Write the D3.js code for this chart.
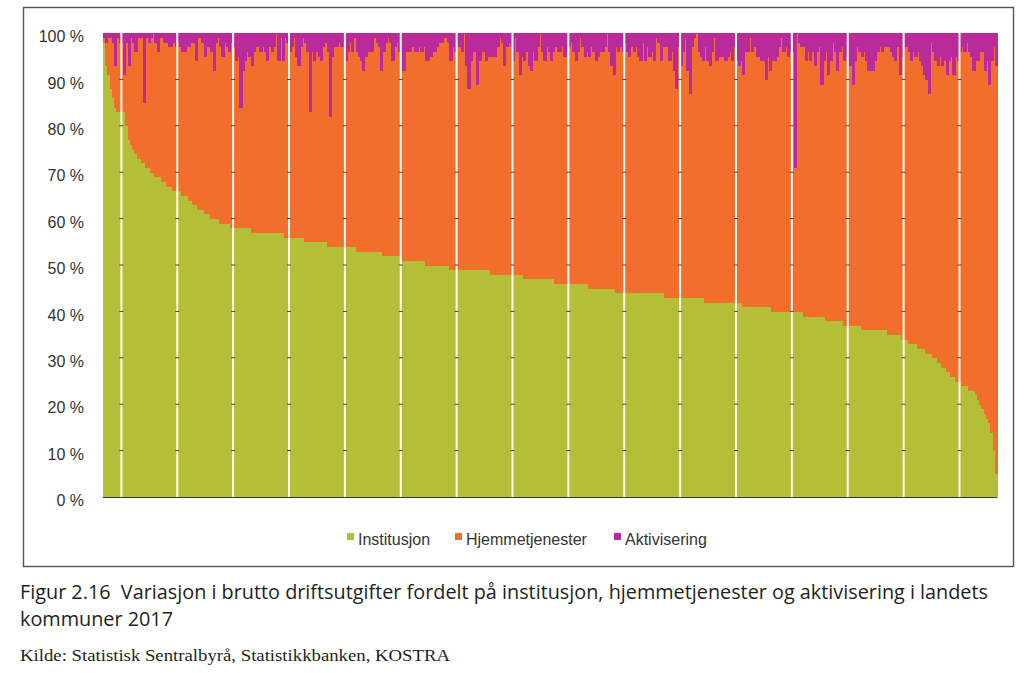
<!DOCTYPE html>
<html><head><meta charset="utf-8">
<script src="https://cdn.jsdelivr.net/npm/d3@7"></script>
<style>body{margin:0;background:#fff;} svg{display:block;}</style>
</head><body>
<svg id="c" width="1024" height="673"></svg>
<script>
// ---- data (share of gross operating expenditure, %, municipalities ranked by Institusjon share) ----
const kommuneRang = d3.range(1, 401);
const institusjon = [
98,93,91,88,86,84,83,83,
83,83,80,77,76,75,74,73,73,72,72,71,71,70,70,69,69,69,68,68,67,67,67,66,66,
66,66,65,65,65,64,64,63,63,62,62,62,61,61,61,60,60,60,60,59,59,59,59,59,58,
58,58,58,58,58,58,58,58,57,57,57,57,57,57,57,57,57,57,57,57,57,57,57,56,56,
56,56,56,56,56,56,56,55,55,55,55,55,55,55,55,55,55,54,54,54,54,54,54,54,54,
54,54,54,54,54,53,53,53,53,53,53,53,53,53,53,53,53,52,52,52,52,52,52,52,52,
52,51,51,51,51,51,51,51,51,51,51,50,50,50,50,50,50,50,50,50,50,50,49,49,49,
49,49,49,49,49,49,49,49,49,49,49,49,49,49,49,48,48,48,48,48,48,48,48,48,48,
48,48,48,48,48,47,47,47,47,47,47,47,47,47,47,47,47,47,47,46,46,46,46,46,46,
46,46,46,46,46,46,46,46,46,45,45,45,45,45,45,45,45,45,45,45,45,44,44,44,44,
44,44,44,44,44,44,44,44,44,44,44,44,44,44,44,44,44,44,43,43,43,43,43,43,43,
43,43,43,43,43,43,43,43,43,43,43,42,42,42,42,42,42,42,42,42,42,42,42,42,42,
42,42,42,41,41,41,41,41,41,41,41,41,41,41,41,41,40,40,40,40,40,40,40,40,40,
40,40,40,40,40,39,39,39,39,39,39,39,39,39,39,38,38,38,38,38,38,38,38,37,37,
37,37,37,37,37,37,36,36,36,36,36,36,36,36,36,36,36,36,35,35,35,35,35,35,34,
34,34,33,33,33,33,32,32,32,32,31,31,31,30,30,29,29,28,28,27,27,26,26,25,25,
25,24,24,24,23,23,23,22,21,20,19,18,17,16,14,10,5];
const hjemmetjenester = [
1,5,8,11,12,9,16,15,
15,8,18,16,23,23,22,26,26,27,13,28,27,29,30,29,27,30,31,30,31,30,30,32,31,
32,31,31,31,32,33,34,35,31,37,37,36,34,36,36,36,32,38,39,38,36,39,38,37,40,
39,36,37,26,34,36,38,37,36,39,40,40,39,40,39,37,40,39,40,43,37,42,37,43,42,
40,41,43,39,37,41,43,43,41,28,41,39,41,40,39,42,43,42,28,41,43,43,44,43,43,
40,42,44,42,45,43,42,41,39,42,43,43,43,46,45,44,39,44,46,47,46,42,45,46,44,
44,41,45,45,45,46,45,45,46,45,46,44,44,45,46,46,47,48,48,49,49,48,45,48,47,
49,48,47,51,44,39,45,47,47,40,45,47,47,45,46,47,47,47,49,51,50,45,49,50,49,
46,51,48,43,47,47,49,46,45,49,47,50,53,49,47,50,49,47,49,51,50,50,51,49,50,
51,52,50,48,50,53,51,49,50,50,52,51,49,50,51,51,52,55,51,48,46,53,52,53,52,
54,52,51,53,52,53,51,50,54,50,53,51,52,50,55,54,50,53,54,54,51,53,49,45,54,
50,53,56,49,44,54,56,57,53,52,51,55,52,51,54,57,52,53,53,53,52,53,54,52,55,
52,51,52,50,55,55,58,55,56,54,54,53,53,49,54,51,54,54,55,57,59,56,57,55,56,
56,31,60,58,57,58,55,57,55,57,54,57,58,50,55,58,53,56,60,58,54,58,59,57,58,
57,56,52,57,60,59,59,60,58,56,56,56,58,60,61,60,61,61,62,61,60,59,62,56,61,
63,63,63,61,63,62,64,62,61,59,59,56,67,66,64,64,66,65,66,64,67,69,65,70,69,
71,73,72,74,73,72,69,72,73,76,77,74,77,73,80,87,88];
const aktivisering = [
1,2,1,1,2,7,1,2,
2,9,2,7,1,2,4,1,1,1,15,1,2,1,0,2,4,1,1,2,2,3,3,2,3,
2,3,4,4,3,3,2,2,6,1,1,2,5,3,3,4,8,2,1,3,5,2,3,4,2,
3,6,5,16,8,6,4,5,7,4,3,3,4,3,4,6,3,4,3,0,6,1,6,1,2,
4,3,1,5,7,3,1,2,4,17,4,6,4,5,6,3,2,4,18,5,3,3,2,3,3,
6,4,2,4,1,4,5,6,8,5,4,4,4,1,2,3,8,4,2,1,2,6,3,2,4,
4,8,4,4,4,3,4,4,3,4,3,6,6,5,4,4,3,2,2,1,1,2,6,3,4,
2,3,4,0,7,12,6,4,4,11,6,4,4,6,5,5,5,5,3,1,2,7,3,2,3,
6,1,4,9,5,6,4,7,8,4,6,3,0,4,6,3,4,6,4,3,4,4,3,5,4,
3,2,4,6,4,1,3,5,4,5,3,4,6,5,4,4,3,0,4,7,9,3,4,3,4,
2,4,5,3,4,3,5,6,2,6,3,5,4,6,1,2,6,3,3,3,6,4,8,12,3,
7,4,1,8,13,3,1,0,4,5,6,3,6,7,4,1,6,5,5,5,6,5,4,6,3,
6,7,6,9,4,4,1,4,3,5,5,6,6,10,5,8,6,6,5,3,1,4,3,5,4,
4,29,0,2,3,3,6,4,6,4,7,4,3,11,6,4,9,6,2,4,8,4,3,6,5,
6,7,11,6,3,4,5,4,6,8,8,8,6,4,3,4,3,3,3,4,5,6,3,9,5,
3,3,4,6,4,5,4,6,7,9,10,13,2,4,6,7,5,7,6,9,6,5,9,5,6,
4,3,4,2,4,5,8,6,6,4,4,8,6,11,6,3,7];
const serier = ["Institusjon", "Hjemmetjenester", "Aktivisering"];
const yTicks = [0, 10, 20, 30, 40, 50, 60, 70, 80, 90, 100];
const tittelLinjer = ["Figur 2.16\u00A0 Variasjon i brutto driftsutgifter fordelt på institusjon, hjemmetjenester og aktivisering i landets", "kommuner 2017"];
const kilde = "Kilde: Statistisk Sentralbyrå, Statistikkbanken, KOSTRA";

// ---- drawing ----
const farger = {Institusjon: "#b4be36", Hjemmetjenester: "#f26e2c", Aktivisering: "#bb2a9b"};
const svg = d3.select("#c");
const L = 103, R = 997, T = 33, B = 497;

svg.append("rect").attr("x", 23.5).attr("y", 7.5).attr("width", 990).attr("height", 559)
  .attr("fill", "none").attr("stroke", "#555").attr("stroke-width", 1.4);

const rows = kommuneRang.map((k, i) => ({k, Institusjon: institusjon[i], Hjemmetjenester: hjemmetjenester[i], Aktivisering: aktivisering[i]}));
const stacked = d3.stack().keys(serier).offset(d3.stackOffsetExpand)(rows);

const x = d3.scaleBand().domain(kommuneRang).range([L, R]).padding(0);
const y = d3.scaleLinear().domain([0, 1]).range([B, T]);

svg.append("g").attr("shape-rendering", "crispEdges").selectAll("g").data(stacked).join("g")
  .attr("fill", s => farger[s.key])
  .selectAll("rect").data(s => s).join("rect")
  .attr("x", d => x(d.data.k))
  .attr("width", x.bandwidth() + 1)
  .attr("y", d => y(d[1]))
  .attr("height", d => y(d[0]) - y(d[1]) + 0.5);

// white category gridlines every 25 municipalities
const gridIdx = d3.range(8, 400, 25);
const gl = svg.append("g");
gl.selectAll("line").data(gridIdx).join("line")
  .attr("x1", i => x(kommuneRang[i]) + 0.5).attr("x2", i => x(kommuneRang[i]) + 0.5)
  .attr("y1", T).attr("y2", B)
  .attr("stroke", "#fffdf4").attr("stroke-width", 2);
// small tick marks on the gridlines
gridIdx.forEach(i => {
  yTicks.filter(t => t > 0 && t < 100).forEach(t => {
    gl.append("line").attr("x1", x(kommuneRang[i]) - 1.5).attr("x2", x(kommuneRang[i]) + 2.5)
      .attr("y1", y(t / 100)).attr("y2", y(t / 100)).attr("stroke", "#444").attr("stroke-width", 1);
  });
});

// x axis baseline
svg.append("line").attr("x1", L).attr("x2", R).attr("y1", B + 0.5).attr("y2", B + 0.5)
  .attr("stroke", "#3a3a3a").attr("stroke-width", 1.2);

// y labels
const yAxis = d3.axisLeft(y).tickValues(yTicks.map(t => t / 100)).tickSize(0).tickFormat(t => Math.round(t * 100) + " %");
const ya = svg.append("g").attr("transform", `translate(${L - 16},0)`).call(yAxis);
ya.select(".domain").remove();
ya.selectAll("text").attr("font-family", "'Liberation Sans', Arial, sans-serif").attr("font-size", 16)
  .attr("fill", "#333").attr("dy", "0.35em").attr("y", 3);

// legend
const legX = [347, 455, 614];
const leg = svg.append("g");
serier.forEach((s, i) => {
  leg.append("rect").attr("x", legX[i]).attr("y", 533).attr("width", 7).attr("height", 7).attr("fill", farger[s]);
  leg.append("text").attr("x", legX[i] + 11).attr("y", 545).text(s)
    .attr("font-family", "'Liberation Sans', Arial, sans-serif").attr("font-size", 16).attr("fill", "#333");
});

// caption
const cap = svg.append("g").attr("font-family", "'Open Sans', 'Noto Sans', sans-serif").attr("fill", "#231f20");
const t1 = cap.append("text").attr("x", 20).attr("y", 599).attr("font-size", 20.5).text(tittelLinjer[0]);
const t2 = cap.append("text").attr("x", 20).attr("y", 626).attr("font-size", 20.5).text(tittelLinjer[1]);
const n1 = t1.node().getComputedTextLength();
const f = 968 / n1;
t1.attr("textLength", 968).attr("lengthAdjust", "spacingAndGlyphs");
t2.attr("textLength", t2.node().getComputedTextLength() * f).attr("lengthAdjust", "spacingAndGlyphs");

const k = svg.append("text").attr("x", 20).attr("y", 661).attr("font-family", "'Liberation Serif', 'DejaVu Serif', serif")
  .attr("font-size", 16).attr("fill", "#231f20").text(kilde);
k.attr("textLength", 430).attr("lengthAdjust", "spacingAndGlyphs");
</script>
</body></html>
